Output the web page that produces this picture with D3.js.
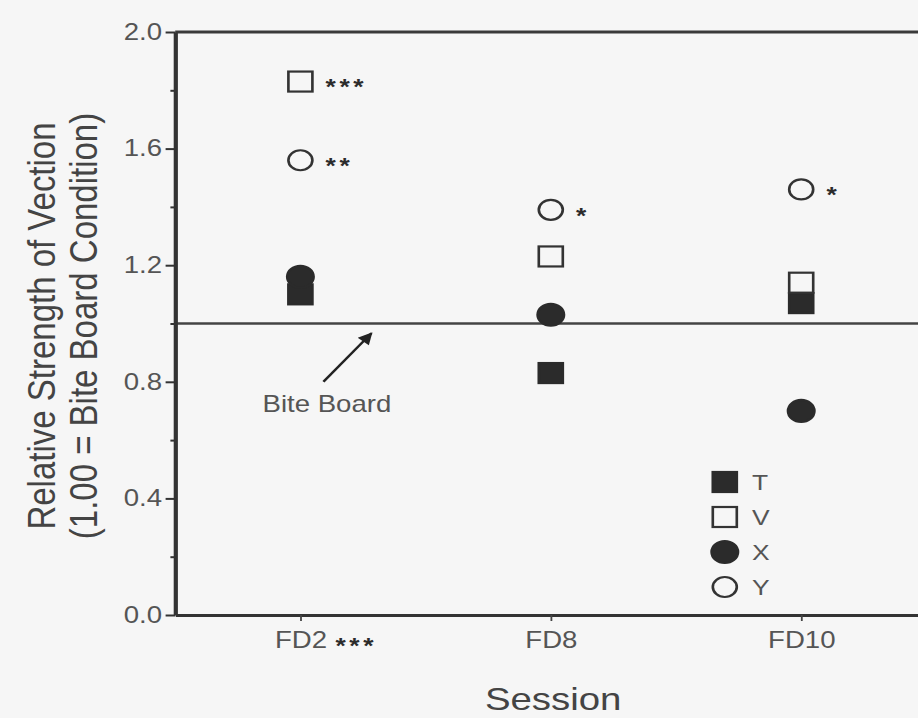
<!DOCTYPE html>
<html>
<head>
<meta charset="utf-8">
<script src="https://cdn.jsdelivr.net/npm/d3@7"></script>
<style>
  html, body { margin: 0; padding: 0; background: #f6f6f6; }
  svg { display: block; }
  text { font-family: "Liberation Sans", Arial, sans-serif; }
</style>
</head>
<body>
<script>
// ---- data ----
const sessions = ["FD2", "FD8", "FD10"];
const sessionSig = ["***", "", ""];
const seriesNames = ["T", "V", "X", "Y"];
const valuesT = [1.10, 0.83, 1.07];
const valuesV = [1.83, 1.23, 1.14];
const valuesX = [1.16, 1.03, 0.70];
const valuesY = [1.56, 1.39, 1.46];
const sigV = ["***", "", ""];
const sigY = ["**", "*", "*"];
const sigT = ["", "", ""];
const sigX = ["", "", ""];
const yMajorTicks = [0.0, 0.4, 0.8, 1.2, 1.6, 2.0];
const yMinorTicks = [0.2, 0.6, 1.0, 1.4, 1.8];
const referenceValue = 1.0;
const yTitle1 = "Relative Strength of Vection";
const yTitle2 = "(1.00 = Bite Board Condition)";
const xTitle = "Session";
const annotationText = "Bite Board";

// ---- layout ----
const W = 918, H = 718;
const SX = 1.2;               // horizontal stretch of the scanned original
const VW = W / SX;
const svg = d3.select("body").append("svg")
  .attr("width", W).attr("height", H)
  .attr("viewBox", `0 0 ${VW} ${H}`)
  .attr("preserveAspectRatio", "none");

svg.append("rect").attr("width", VW).attr("height", H).attr("fill", "#f6f6f6");

const x = d3.scalePoint().domain(sessions).range([146, 772]).padding(0.5);
const y = d3.scaleLinear().domain([0, 2]).range([615, 32]);
const xAt = f => x(sessions[0]) + f * x.step();

const ink = "#2b2b2b";
const gray = "#555";

// top frame line
svg.append("line")
  .attr("x1", x.range()[0]).attr("x2", x.range()[1])
  .attr("y1", y(2)).attr("y2", y(2))
  .attr("stroke", "#3a3a3a").attr("stroke-width", 3);

// reference line at 1.0
svg.append("line")
  .attr("x1", x.range()[0]).attr("x2", x.range()[1])
  .attr("y1", y(referenceValue)).attr("y2", y(referenceValue))
  .attr("stroke", "#444").attr("stroke-width", 2.6);

// y axis
const gy = svg.append("g").attr("transform", `translate(${x.range()[0]},0)`)
  .call(d3.axisLeft(y).tickValues(yMajorTicks).tickFormat(d3.format(".1f"))
    .tickSize(8).tickPadding(3).tickSizeOuter(0));
gy.select(".domain").attr("stroke", "#333").attr("stroke-width", 3.5);
gy.selectAll(".tick line").attr("stroke", "#333").attr("stroke-width", 2);
gy.selectAll(".tick text").attr("font-size", 23).attr("fill", gray)
  .attr("font-family", "Liberation Sans, Arial, sans-serif");

const gyMinor = svg.append("g").attr("transform", `translate(${x.range()[0]},0)`)
  .call(d3.axisLeft(y).tickValues(yMinorTicks).tickFormat("").tickSize(4).tickSizeOuter(0));
gyMinor.select(".domain").remove();
gyMinor.selectAll(".tick line").attr("stroke", "#333").attr("stroke-width", 2);

// x axis
const gx = svg.append("g").attr("transform", `translate(0,${y(0)})`)
  .call(d3.axisBottom(x).tickSize(6).tickPadding(11).tickSizeOuter(0));
gx.select(".domain").attr("stroke", "#333").attr("stroke-width", 3);
gx.selectAll(".tick line").attr("stroke", "#444").attr("stroke-width", 1.5);
gx.selectAll(".tick text").attr("font-size", 23).attr("fill", gray)
  .attr("font-family", "Liberation Sans, Arial, sans-serif");
gx.selectAll(".tick").each(function(d) {
  const i = sessions.indexOf(d);
  if (!sessionSig[i]) return;
  const t = d3.select(this).select("text");
  const bb = t.node().getBBox();
  d3.select(this).append("text")
    .attr("x", bb.x + bb.width + 7)
    .attr("y", bb.y + bb.height / 2)
    .attr("dy", "0.58em")
    .attr("font-size", 22).attr("font-weight", "bold")
    .attr("letter-spacing", 3)
    .attr("fill", ink).attr("text-anchor", "start")
    .text(sessionSig[i]);
});

// axis titles
svg.append("text")
  .attr("x", x(sessions[1]) + 2).attr("y", 710)
  .attr("text-anchor", "middle").attr("font-size", 32).attr("fill", "#444")
  .text(xTitle);

const yt = svg.append("g").attr("transform", "translate(45.8,326) rotate(-90)");
yt.append("text").attr("x", 0).attr("y", 0)
  .attr("text-anchor", "middle").attr("font-size", 33).attr("fill", "#444").text(yTitle1);
yt.append("text").attr("x", 0).attr("y", 35)
  .attr("text-anchor", "middle").attr("font-size", 33).attr("fill", "#444").text(yTitle2);

// annotation
svg.append("defs").append("marker")
  .attr("id", "ah").attr("viewBox", "0 0 10 10").attr("refX", 9).attr("refY", 5)
  .attr("markerWidth", 14).attr("markerHeight", 12).attr("markerUnits", "userSpaceOnUse")
  .attr("orient", "auto")
  .append("path").attr("d", "M0,0 L10,5 L0,10 Z").attr("fill", "#222");
svg.append("line")
  .attr("x1", xAt(0.092)).attr("y1", y(0.80))
  .attr("x2", xAt(0.284)).attr("y2", y(0.967))
  .attr("stroke", "#222").attr("stroke-width", 2.2)
  .attr("marker-end", "url(#ah)");
svg.append("text")
  .attr("x", xAt(0.106)).attr("y", y(0.696))
  .attr("text-anchor", "middle").attr("font-size", 23).attr("fill", gray)
  .text(annotationText);

// ---- points ----
const series = [
  { name: "T", values: valuesT, sig: sigT, shape: "square", filled: true },
  { name: "V", values: valuesV, sig: sigV, shape: "square", filled: false },
  { name: "X", values: valuesX, sig: sigX, shape: "circle", filled: true },
  { name: "Y", values: valuesY, sig: sigY, shape: "circle", filled: false }
];

function drawMarker(g, s, cx, cy) {
  if (s.shape === "square") {
    g.append("rect")
      .attr("x", cx - 10).attr("y", cy - 10).attr("width", 20).attr("height", 20)
      .attr("fill", s.filled ? ink : "none")
      .attr("stroke", s.filled ? ink : "#333").attr("stroke-width", 2.2);
  } else {
    g.append("circle")
      .attr("cx", cx).attr("cy", cy).attr("r", s.filled ? 11 : 10)
      .attr("fill", s.filled ? ink : "none")
      .attr("stroke", s.filled ? ink : "#333").attr("stroke-width", 2.2);
  }
}

const gp = svg.append("g");
series.forEach(s => {
  s.values.forEach((v, i) => {
    const cx = x(sessions[i]), cy = y(v);
    drawMarker(gp, s, cx, cy);
    if (s.sig[i]) {
      gp.append("text")
        .attr("x", cx + 21).attr("y", cy).attr("dy", "0.58em")
        .attr("font-size", 22).attr("font-weight", "bold")
        .attr("letter-spacing", 3)
        .attr("fill", ink).text(s.sig[i]);
    }
  });
});

// ---- legend ----
const lg = svg.append("g");
series.forEach((s, i) => {
  const ly = 482 + i * 35;
  drawMarker(lg, s, 604, ly);
  lg.append("text")
    .attr("x", 626.7).attr("y", ly).attr("dy", "0.36em")
    .attr("font-size", 22).attr("fill", gray).text(s.name);
});
</script>
</body>
</html>
